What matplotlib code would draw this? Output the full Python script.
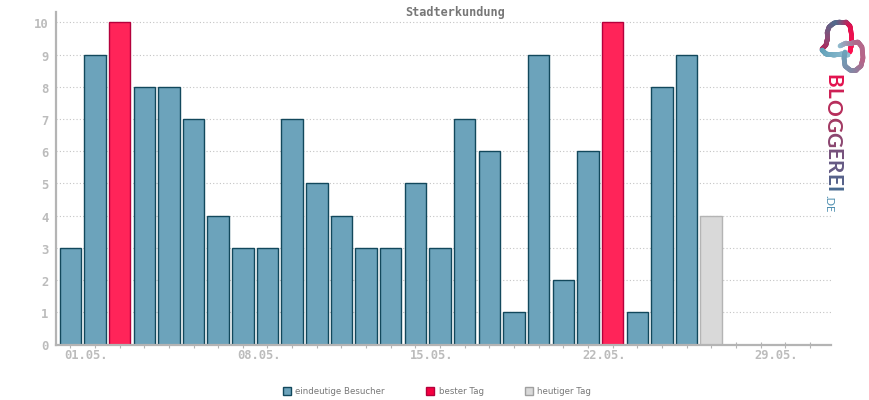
import matplotlib
matplotlib.use('Agg')
import matplotlib.pyplot as plt
import numpy as np
from matplotlib.patches import Patch
from matplotlib.collections import LineCollection
from matplotlib.colors import LinearSegmentedColormap

days = list(range(1, 28))
visitors = [3, 9, 10, 8, 8, 7, 4, 3, 3, 7, 5, 4, 3, 3, 5, 3, 7, 6, 1, 9, 2, 6, 10, 1, 8, 9, 4]
best_days = [3, 23]
today = 27
y_ticks = list(range(0, 11))
tick_days = [1, 8, 15, 22, 29]
tick_labels = ['01.05.', '08.05.', '15.05.', '22.05.', '29.05.']
legend_labels = ['eindeutige Besucher', 'bester Tag', 'heutiger Tag']

BLUE, BLUE_EDGE = '#6ca3bb', '#12485c'
RED, RED_EDGE = '#ff2459', '#b4003c'
GREY, GREY_EDGE = '#d9d9d9', '#b4b4b4'
AXIS = '#b4b4b4'
W, H = 870, 400

fig = plt.figure(figsize=(W / 100, H / 100), dpi=100)
ax = fig.add_axes([56 / W, 1 - 344.5 / H, (831 - 56) / W, (344.5 - 12) / H])

colors, edges = [], []
for d in days:
    if d == today:
        colors.append(GREY); edges.append(GREY_EDGE)
    elif d in best_days:
        colors.append(RED); edges.append(RED_EDGE)
    else:
        colors.append(BLUE); edges.append(BLUE_EDGE)
ax.bar(days, visitors, width=0.87, color=colors, edgecolor=edges, linewidth=1.0, zorder=2)

ax.set_xlim(0.42, 31.86)
ax.set_ylim(0, 10.32)
ax.yaxis.grid(True, linestyle=(0, (1, 2)), color='#c4c4c4', linewidth=0.8, zorder=1)
ax.set_axisbelow(True)
for s in ['top', 'right']:
    ax.spines[s].set_visible(False)
for s in ['left', 'bottom']:
    ax.spines[s].set_color(AXIS)
    ax.spines[s].set_linewidth(1.6)
    ax.spines[s].set_zorder(5)

ax.set_yticks(y_ticks)
ax.set_yticklabels([])
ax.tick_params(axis='y', length=0)
ax.set_xticks(range(1, 32))
ax.set_xticklabels([])
ax.tick_params(axis='x', length=4, width=0.8, direction='inout', color=AXIS)

# labels sit a little off their ticks in the original
for v in y_ticks:
    ax.annotate(str(v), (0.42, v), xytext=(-5.4, -1.8), textcoords='offset points',
                ha='right', va='center', family='DejaVu Sans Mono', fontweight='bold',
                fontsize=8.8, color='#bcbcbc', annotation_clip=False)
for d, lab in zip(tick_days, tick_labels):
    ax.annotate(lab, (d, 0), xytext=(11.5, -8.2), textcoords='offset points',
                ha='center', va='center', family='DejaVu Sans Mono', fontweight='bold',
                fontsize=8.7, color='#bcbcbc', annotation_clip=False)

fig.text(455 / W, 1 - 12.5 / H, 'Stadterkundung', ha='center', va='center',
         family='DejaVu Sans Mono', fontweight='bold', fontsize=8.6, color='#777777')

handles = [Patch(facecolor=BLUE, edgecolor=BLUE_EDGE),
           Patch(facecolor='#f5003f', edgecolor=RED_EDGE),
           Patch(facecolor=GREY, edgecolor='#a0a0a0')]
fig.legend(handles, legend_labels, ncol=3, frameon=False, loc='center',
           bbox_to_anchor=(437 / W, 1 - 391.5 / H), labelcolor='#777777',
           handlelength=0.95, handleheight=0.95, handletextpad=0.5, columnspacing=4.8,
           prop={'family': 'DejaVu Sans', 'size': 6.2})

# logo, in pixel coordinates
logo = fig.add_axes([0, 0, 1, 1], zorder=6)
logo.set_xlim(0, W)
logo.set_ylim(H, 0)
logo.axis('off')
logo.patch.set_alpha(0)


def ribbon(xs, ys, cols, lw=3.4):
    t = np.linspace(0, 1, len(xs))
    tt = np.linspace(0, 1, 120)
    px, py = np.interp(tt, t, xs), np.interp(tt, t, ys)
    pts = np.column_stack([px, py])
    segs = np.stack([pts[:-1], pts[1:]], axis=1)
    cmap = LinearSegmentedColormap.from_list('logo', cols)
    logo.add_collection(LineCollection(segs, colors=cmap(tt[:-1]), linewidth=lw,
                                       capstyle='round'))


ribbon([822, 826, 827, 827, 829, 834, 840, 846, 850, 851, 851, 850],
       [49, 45, 40, 33, 27, 23, 22, 22, 26, 32, 46, 52],
       ['#b81f55', '#8a4d78', '#4f6d8e', '#e0104f', '#ff0f4f'])
ribbon([822, 826, 834, 842, 848], [50, 54, 55, 54, 55], ['#5f9fb8', '#8fbdd0'])
ribbon([840, 846, 852, 858, 862, 863, 861, 856, 850, 845, 844, 845],
       [46, 43, 43, 42, 47, 58, 66, 70, 70, 66, 58, 52],
       ['#8fbdd0', '#b06a8c', '#b86488', '#7f8ba8', '#6ca3bb'])

word = 'BLOGGEREI'
word_cols = LinearSegmentedColormap.from_list('word', ['#e3134f', '#a8365f', '#6f5580', '#47688f'])
renderer = fig.canvas.get_renderer()
y = 74.0
for i, ch in enumerate(word):
    t = logo.text(832, y, ch, rotation=-90, ha='center', va='top', family='Lato',
                  fontweight='bold', fontsize=15, color=word_cols(i / (len(word) - 1)))
    bb = t.get_window_extent(renderer)
    y += bb.height + 0.5
logo.text(828.5, 203.5, '.DE', rotation=-90, ha='center', va='center', family='Lato',
          fontsize=8, color='#4f8fb0')

fig.savefig('out.png', dpi=100)
